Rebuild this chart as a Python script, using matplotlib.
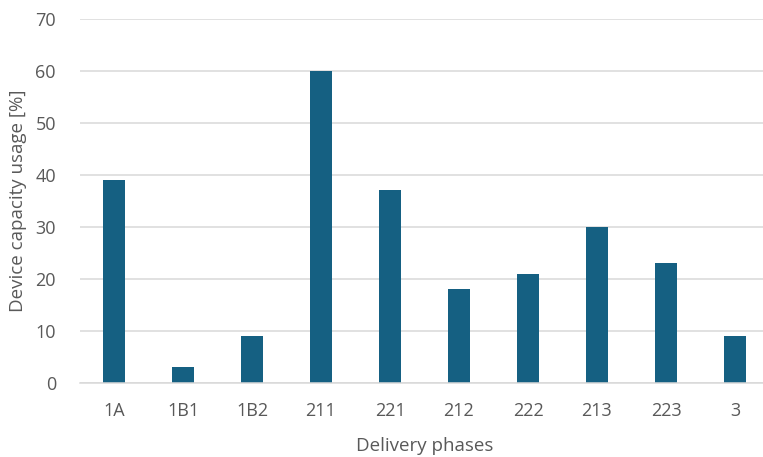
import matplotlib.pyplot as plt

phases = ['1A', '1B1', '1B2', '211', '221', '212', '222', '213', '223', '3']
usage = [39, 3, 9, 60, 37, 18, 21, 30, 23, 9]

plt.rcParams['font.family'] = ['Open Sans', 'DejaVu Sans']

W, H = 763, 457
fig = plt.figure(figsize=(W / 100, H / 100), dpi=100)
ax = fig.add_axes([79.5 / W, (H - 382.7) / H, 690 / W, 363.7 / H])

ax.bar(range(len(phases)), usage, width=0.32, color='#156082', zorder=3)

ax.set_xlim(-0.5, len(phases) - 0.5)
ax.set_ylim(0, 70)
ax.set_yticks(range(0, 71, 10))
ax.set_xticks(range(len(phases)))
ax.set_xticklabels(phases)

ax.grid(axis='y', color='#d9d9d9', linewidth=1.1, zorder=0)
for side in ['top', 'right', 'left']:
    ax.spines[side].set_visible(False)
ax.spines['bottom'].set_color('#d9d9d9')
ax.spines['bottom'].set_linewidth(1.1)
ax.spines['bottom'].set_zorder(4)

ax.tick_params(length=0, labelsize=13, labelcolor='#595959')
ax.tick_params(axis='y', pad=17)
ax.tick_params(axis='x', pad=14)

ax.set_xlabel('Delivery phases', fontsize=13.5, color='#595959', labelpad=12)
ax.set_ylabel('Device capacity usage [%]', fontsize=13.5, color='#595959', labelpad=6)

fig.savefig('out.png', dpi=100)
plt.close(fig)
